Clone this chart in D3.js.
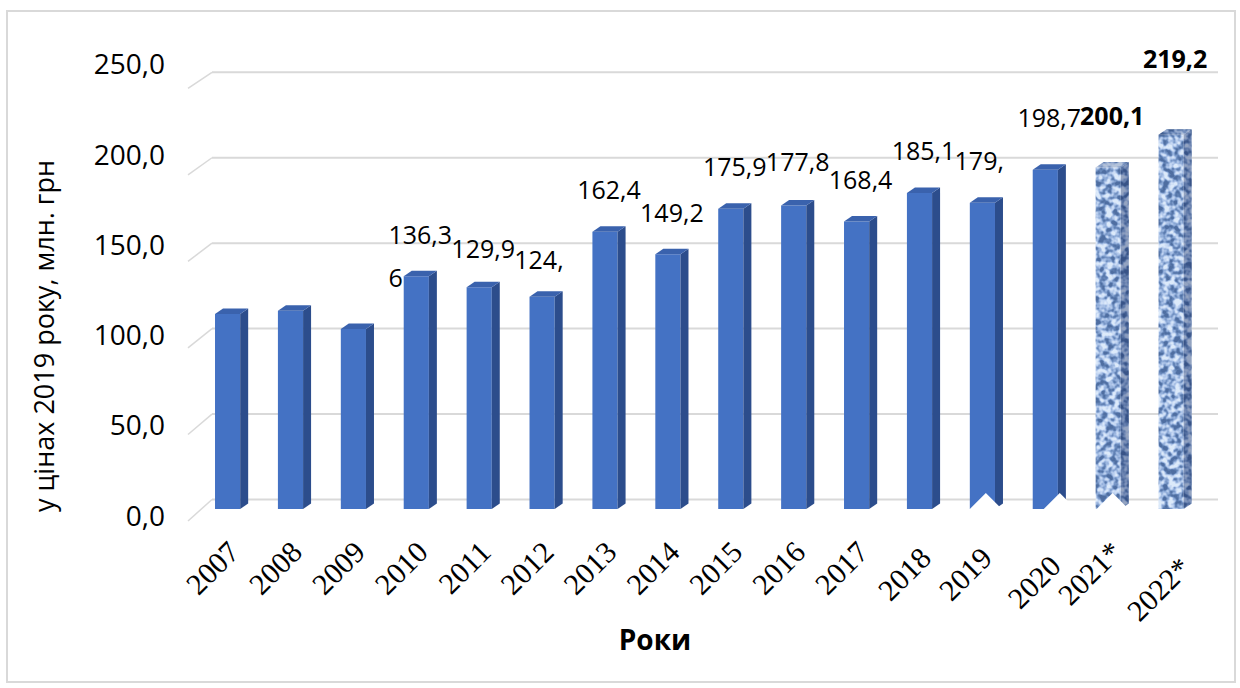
<!DOCTYPE html>
<html>
<head>
<meta charset="utf-8">
<script src="https://cdn.jsdelivr.net/npm/d3@7/dist/d3.min.js"></script>
<style>
    body { margin: 0; background: #fff; }
    svg { display: block; font-family: 'Open Sans', sans-serif; }
</style>
</head>
<body>
<div id="chart"></div>
<script>
'use strict';

// data
let years = ['2007', '2008', '2009', '2010', '2011', '2012', '2013', '2014',
    '2015', '2016', '2017', '2018', '2019', '2020', '2021*', '2022*'];
let values = [114.2, 116.2, 105.4, 136.3, 129.9, 124.4, 162.4, 149.2,
    175.9, 177.8, 168.4, 185.1, 179.4, 198.7, 200.1, 219.2];
let forecastYears = ['2021*', '2022*'];
// label text as it shows in the picture (some are wrapped / cut)
let valueLabels = [null, null, null, ['136,3', '6'], ['129,9'], ['124,'], ['162,4'], ['149,2'],
    ['175,9'], ['177,8'], ['168,4'], ['185,1'], ['179,'], ['198,7'], ['200,1'], ['219,2']];
let yTicks = [0, 50, 100, 150, 200, 250];
let yTitle = 'у цінах 2019 року, млн. грн';
let xTitle = 'Роки';

// layout
let width = 1240, height = 688;
let depthX = 8, depthY = 5.5;
let labelLift = [0, 0, 0, 32, 29, 28, 33, 32, 33, 34, 33, 33, 33, 43, 42, 67];
let tickNudge = { '2018': [0, 6], '2019': [-2, 6], '2020': [4, 14], '2021*': [2, 0], '2022*': [8, 16] };
let notches = { '2019': 16, '2020': 27, '2021*': 17 };

let colours = {
    front: '#4472c4',
    side: '#2c4d8c',
    top: '#3a62ad',
    grid: '#d9d9d9',
    ink: '#000'
};

let fmt = v => d3.format('.1f')(v).replace('.', ',');

let svg = d3.select('#chart').append('svg')
    .attr('width', width)
    .attr('height', height);

// mottled texture for forecast bars
let defs = svg.append('defs');
let filter = defs.append('filter')
    .attr('id', 'mottle')
    .attr('x', 0).attr('y', 0).attr('width', 1).attr('height', 1);
filter.append('feTurbulence')
    .attr('type', 'fractalNoise')
    .attr('baseFrequency', 0.16)
    .attr('numOctaves', 2)
    .attr('seed', 7)
    .attr('result', 'noise');
filter.append('feColorMatrix')
    .attr('in', 'noise')
    .attr('type', 'matrix')
    .attr('values', '2.6 0 0 0 -0.8  2.6 0 0 0 -0.8  2.6 0 0 0 -0.8  0 0 0 0 1')
    .attr('result', 'gray');
let transfer = filter.append('feComponentTransfer')
    .attr('in', 'gray')
    .attr('result', 'tint');
transfer.append('feFuncR').attr('type', 'table').attr('tableValues', '0.08 0.14 0.30 0.52 0.72');
transfer.append('feFuncG').attr('type', 'table').attr('tableValues', '0.16 0.25 0.44 0.65 0.82');
transfer.append('feFuncB').attr('type', 'table').attr('tableValues', '0.36 0.50 0.72 0.88 0.96');
filter.append('feComposite')
    .attr('in', 'tint')
    .attr('in2', 'SourceGraphic')
    .attr('operator', 'in');

// border
svg.append('rect')
    .attr('x', 7).attr('y', 11)
    .attr('width', 1228).attr('height', 671)
    .attr('fill', 'none')
    .attr('stroke', colours.grid)
    .attr('stroke-width', 2);

// scales
let x = d3.scaleBand()
    .domain(years)
    .range([193, 1205.7])
    .paddingInner(0.6)
    .paddingOuter(0.35);

let yFront = d3.scaleLinear().domain([0, 250]).range([509, 82.25]);
let yWall = d3.scaleLinear().domain([0, 250]).range([499.5, 72.3]);
let yEdge = d3.scaleLinear().domain([0, 250]).range([521, 88.3]);
let yTickText = d3.scaleLinear().domain([0, 250]).range([515.5, 64.25]);

// back wall gridlines + floor edge
let grid = svg.append('g').attr('class', 'grid');
yTicks.forEach(t => {
    grid.append('line')
        .attr('x1', 212).attr('y1', yWall(t))
        .attr('x2', 1218).attr('y2', yWall(t))
        .attr('stroke', colours.grid)
        .attr('stroke-width', 2);
    grid.append('line')
        .attr('x1', 188).attr('y1', yEdge(t))
        .attr('x2', 212).attr('y2', yWall(t))
        .attr('stroke', colours.grid)
        .attr('stroke-width', 1.5);
});

// y tick labels
svg.append('g')
    .selectAll('text')
    .data(yTicks)
    .join('text')
    .attr('x', 165)
    .attr('y', d => yTickText(d))
    .attr('dy', '0.36em')
    .attr('text-anchor', 'end')
    .style('font-size', '28px')
    .style('fill', colours.ink)
    .text(d => fmt(d));

// bars
let bars = svg.append('g').attr('class', 'bars');
years.forEach((year, i) => {
    let x0 = x(year);
    let x1 = x0 + x.bandwidth();
    let base = yFront(0);
    let top = yFront(values[i]);
    let isForecast = forecastYears.includes(year);
    let g = bars.append('g');

    let front = `${x0},${base} ${x1},${base} ${x1},${top} ${x0},${top}`;
    let side = `${x1},${base} ${x1 + depthX},${base - depthY} ${x1 + depthX},${top - depthY} ${x1},${top}`;
    let lid = `${x0},${top} ${x1},${top} ${x1 + depthX},${top - depthY} ${x0 + depthX},${top - depthY}`;

    if (isForecast) {
        [front, side, lid].forEach(pts => {
            g.append('polygon')
                .attr('points', pts)
                .attr('fill', '#5d7fc0')
                .attr('filter', 'url(#mottle)');
        });
        g.append('polygon').attr('points', side).attr('fill', 'rgba(15,35,85,0.35)');
        g.append('polygon').attr('points', lid).attr('fill', 'rgba(15,35,85,0.2)');
    } else {
        g.append('polygon').attr('points', front).attr('fill', colours.front);
        g.append('polygon').attr('points', side).attr('fill', colours.side);
        g.append('polygon').attr('points', lid).attr('fill', colours.top);
    }
});

// white notches where the category label boxes cut into the bars
Object.entries(notches).forEach(([year, shift]) => {
    let cx = x(year) + shift;
    let base = yFront(0) + 1;
    svg.append('polygon')
        .attr('points', `${cx - 17},${base} ${cx},${base - 17} ${cx + 17},${base}`)
        .attr('fill', '#fff');
});

// value labels
let measure = svg.append('text').style('font-size', '25px');
let labels = svg.append('g').attr('class', 'value-labels');
years.forEach((year, i) => {
    let lines = valueLabels[i];
    if (!lines) return;
    let isForecast = forecastYears.includes(year);
    measure.style('font-weight', isForecast ? 700 : 400).text(fmt(values[i]));
    let boxWidth = measure.node().getComputedTextLength();
    let cx = x(year) + x.bandwidth() / 2 + depthX / 2;
    let baseY = yFront(values[i]) - labelLift[i];

    lines.forEach((line, k) => {
        labels.append('text')
            .attr('x', cx - boxWidth / 2)
            .attr('y', baseY + k * 43)
            .style('font-size', '25px')
            .style('font-weight', isForecast ? 700 : 400)
            .style('fill', colours.ink)
            .text(line);
    });
});
measure.remove();

// category labels, rotated
svg.append('g')
    .selectAll('text')
    .data(years)
    .join('text')
    .attr('transform', d => {
        let n = tickNudge[d] || [0, 0];
        return `translate(${x(d) + 26 + n[0]}, ${554 + n[1]}) rotate(-45)`;
    })
    .attr('text-anchor', 'end')
    .style('font-family', '"Liberation Serif", serif')
    .style('font-size', '30px')
    .style('fill', colours.ink)
    .text(d => d);

// axis titles
svg.append('text')
    .attr('transform', 'translate(45, 336) rotate(-90)')
    .attr('text-anchor', 'middle')
    .attr('dy', '0.35em')
    .style('font-size', '27px')
    .style('fill', colours.ink)
    .text(yTitle);

svg.append('text')
    .attr('x', 655)
    .attr('y', 640)
    .attr('text-anchor', 'middle')
    .attr('dy', '0.35em')
    .style('font-size', '28px')
    .style('font-weight', 700)
    .style('fill', colours.ink)
    .text(xTitle);
</script>
</body>
</html>
